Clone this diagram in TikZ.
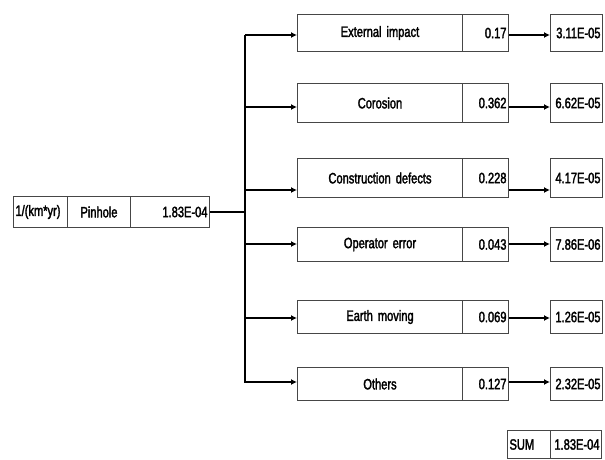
\documentclass[tikz,border=0pt]{standalone}
\usepackage{fontspec}
\setmainfont{Liberation Sans}[FakeStretch=0.74, FakeBold=2]
\usetikzlibrary{arrows.meta}
\definecolor{boxline}{RGB}{70,70,70}
\newcommand\mytightspace{\spaceskip=3pt plus 1pt\relax}
\newcommand\mycellfont{\fontsize{15}{17}\selectfont\mytightspace}
\begin{document}
\begin{tikzpicture}[x=1pt,y=-1pt,
  cell/.style={draw=boxline, line width=1pt, inner xsep=2pt, inner ysep=0pt,
    anchor=north west, font=\mycellfont},
  conn/.style={line width=1.6pt, black},
  arr/.style={conn, -{Latex[length=6pt,width=6pt]}}]
\useasboundingbox (0,0) rectangle (605,459);
% left table
\node[cell, text width=50pt, align=left, minimum height=31pt] (p1) at (13,196) {1/(km*yr)};
\node[cell, text width=59pt, align=center, minimum height=31pt] (p2) at (67,196) {Pinhole};
\node[cell, text width=75pt, align=right, minimum height=31pt] (p3) at (130,196) {1.83E-04};
% rows
\foreach \i/\y/\h/\nm/\p/\r in {
  1/14/37/External impact/0.17/3.11E-05,
  2/83/39/Corosion/0.362/6.62E-05,
  3/158/39/Construction defects/0.228/4.17E-05,
  4/227/34/Operator error/0.043/7.86E-06,
  5/300/33/Earth moving/0.069/1.26E-05,
  6/367/33/Others/0.127/2.32E-05}{
  \node[cell, text width=161pt, align=center, minimum height=\h pt] (n\i) at (297,\y) {\nm};
  \node[cell, text width=42pt, align=right, minimum height=\h pt] (v\i) at (462,\y) {\p};
  \node[cell, text width=48pt, align=right, minimum height=\h pt] (r\i) at (550,\y) {\r};
}
% sum
\node[cell, text width=39pt, align=left, minimum height=28pt] (s1) at (507,430) {SUM};
\node[cell, text width=47pt, align=right, minimum height=28pt] (s2) at (550,430) {1.83E-04};
% bus
\coordinate (bt) at (245,35);
\coordinate (bb) at (245,383);
\draw[conn, line width=2pt] (bt) -- (bb);
\draw[conn, line width=2.6pt] (p3.east) -- (p3.east -| bt);
\foreach \i/\a in {1/35,2/107,3/190,4/244,5/318,6/382}{
  \coordinate (a\i) at (0,\a);
  \draw[arr] (bt |- a\i) -- (n\i.west |- a\i);
  \draw[arr] (v\i.east |- a\i) -- (r\i.west |- a\i);
}
\end{tikzpicture}
\end{document}
